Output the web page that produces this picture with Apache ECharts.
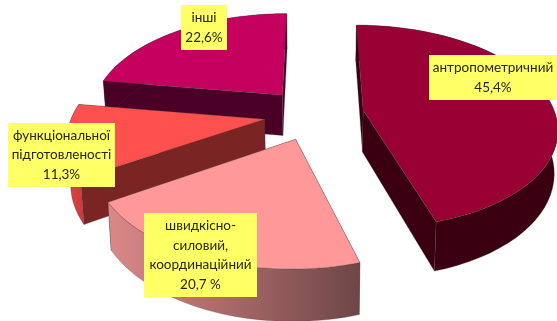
<!DOCTYPE html>
<html>
<head>
<meta charset="utf-8">
<style>html,body{margin:0;padding:0;background:#fff}#chart{width:557px;height:321px}</style>
<script src="https://cdn.jsdelivr.net/npm/echarts@6/dist/echarts.min.js"></script>
</head>
<body>
<div id="chart"></div>
<script>
// Shares of the pie, clockwise from twelve o'clock
const categories = [['антропометричний'], ['швидкісно-', 'силовий,', 'координаційний'], ['функціональної', 'підготовленості'], ['інші']];
const shares = [45.4, 20.7, 11.3, 22.6];
const shareLabels = ['45,4%', '20,7 %', '11,3%', '22,6%'];

const topColors = ['#990033', '#FF9999', '#FF5050', '#C6005F'];
const edgeColors = ['#3A0012', '#6E4646', '#7B2424', '#4A0026'];
const rimColors = [
  ['#3A0012', '#3A0012'],
  ['#DC8888', '#6E4646'],
  ['#E24444', '#C83A3A'],
  ['#4A0026', '#4A0026']
];
// Back-to-front paint order of the slices
const paintOrder = [3, 2, 0, 1];
// Yellow label boxes: left, top, width, height
const labelBoxes = [[429, 55, 128, 45], [144, 213, 113, 84], [8, 123, 107, 64], [181, 5, 46, 45]];

// Projection of the tilted, exploded pie
const CX = 314, CY = 114, R = 192, TILT = 0.52, DEPTH = 0.16, EXPLODE = 50, THICK = 42, BASE_X = 0.985, STEPS = 48;

const total = shares.reduce((a, b) => a + b, 0);
const sliceAngles = [];
shares.reduce((start, v) => {
  const end = start + v / total * Math.PI * 2;
  sliceAngles.push([start, end]);
  return end;
}, 0);

function project(u, v, lower) {
  const s = 1 / (1 - DEPTH * v / R);
  const xs = lower ? BASE_X : 1;
  return [CX + u * s * xs, CY + TILT * v * s + (lower ? THICK * s : 0)];
}

function renderSlice(params, api) {
  const i = api.value(0);
  const [a0, a1] = sliceAngles[i];
  const mid = (a0 + a1) / 2;
  const ou = EXPLODE * Math.sin(mid), ov = -EXPLODE * Math.cos(mid);
  const rimPlane = [];
  for (let k = 0; k <= STEPS; k++) {
    const a = a0 + (a1 - a0) * k / STEPS;
    rimPlane.push([ou + R * Math.sin(a), ov - R * Math.cos(a)]);
  }
  const first = rimPlane[0], last = rimPlane[STEPS];
  const outline = { stroke: 'rgba(70,60,60,0.45)', lineWidth: 0.6 };
  const wall = (p, q) => ({
    type: 'polygon',
    shape: { points: [project(p[0], p[1]), project(q[0], q[1]), project(q[0], q[1], true), project(p[0], p[1], true)] },
    style: Object.assign({ fill: edgeColors[i] }, outline)
  });
  const rimPts = rimPlane.map(p => project(p[0], p[1]))
    .concat(rimPlane.slice().reverse().map(p => project(p[0], p[1], true)));
  const rim = {
    type: 'polygon',
    shape: { points: rimPts },
    style: Object.assign({
      fill: new echarts.graphic.LinearGradient(0, 0, 1, 0, [
        { offset: 0, color: rimColors[i][0] },
        { offset: 1, color: rimColors[i][1] }
      ])
    }, outline)
  };
  const face = [project(ou, ov)].concat(rimPlane.map(p => project(p[0], p[1])));
  // Radial walls first, then the rim, then the top face over them
  return {
    type: 'group',
    children: [wall(first, [ou, ov]), wall(last, [ou, ov]), rim, {
      type: 'polygon',
      shape: { points: face },
      style: Object.assign({ fill: topColors[i] }, outline)
    }]
  };
}

function renderLabel(params, api) {
  const i = api.value(0);
  const [x, y, w, h] = labelBoxes[i];
  return {
    type: 'group',
    children: [
      { type: 'rect', shape: { x, y, width: w, height: h }, style: { fill: '#FFFF66' } },
      {
        type: 'text',
        x: x + w / 2,
        y: y + h / 2,
        style: {
          text: categories[i].concat(shareLabels[i]).join('\n'),
          align: 'center',
          verticalAlign: 'middle',
          fill: '#26261A',
          font: '13.5px Lato, "Open Sans", sans-serif',
          lineHeight: 19.5
        }
      }
    ]
  };
}

const chart = echarts.init(document.getElementById('chart'), null, { renderer: 'canvas' });
chart.setOption({
  animation: false,
  backgroundColor: '#fff',
  series: [
    { type: 'custom', coordinateSystem: 'none', z: 1, renderItem: renderSlice, data: paintOrder.map(i => [i, shares[i]]), silent: true },
    { type: 'custom', coordinateSystem: 'none', z: 2, renderItem: renderLabel, data: shares.map((v, i) => [i, v]), silent: true }
  ]
});
</script>
</body>
</html>
